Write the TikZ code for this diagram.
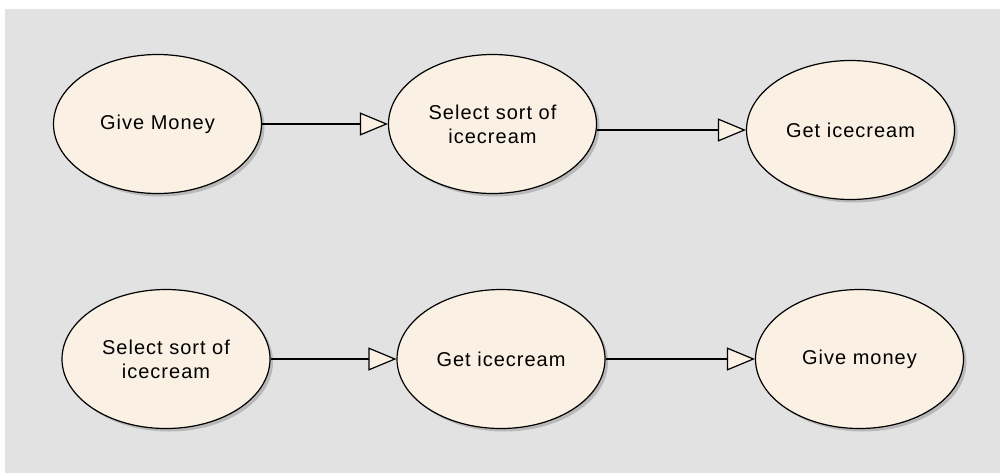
\documentclass[tikz,border=0pt]{standalone}
\usepackage{fontspec}
\setmainfont{Liberation Sans}[LetterSpace=5]
\usetikzlibrary{shapes.geometric,arrows.meta,shadows}

\definecolor{bggray}{HTML}{E2E2E2}
\definecolor{ucfill}{HTML}{FAF0E3}

\tikzset{
  usecase/.style={ellipse,draw=black,line width=0.6pt,fill=ucfill,
    minimum width=104pt,minimum height=69.5pt,inner sep=0pt,align=center,
    font=\fontsize{10}{12}\selectfont,
    drop shadow={shadow xshift=1.5pt,shadow yshift=-1.5pt,fill=black,opacity=0.18}},
  >={Triangle[length=14pt,width=11.5pt,fill=ucfill]},
  every edge/.append style={line width=0.6pt}
}

\begin{document}
\begin{tikzpicture}[x=0.5pt,y=-0.5pt]
  \useasboundingbox (0,0) rectangle (1000,473);
  \fill[white] (0,0) rectangle (1000,473);
  \fill[bggray] (5,9) rectangle (1000,473);

  % first order
  \node[usecase] (give1) at (157.5,124) {Give Money};
  \node[usecase] (sel1) at (492.5,124) {Select sort of\\icecream}
  edge[<-] (give1);
  \node[usecase] (get1) at (850.5,130) {Get icecream};
  \draw[<-,line width=0.6pt] (get1.west) -- (get1.west -| sel1.east);

  % second order
  \node[usecase] (sel2) at (166,359) {Select sort of\\icecream};
  \node[usecase] (get2) at (501,359) {Get icecream}
  edge[<-] (sel2);
  \node[usecase] (give2) at (859.5,359) {Give money}
  edge[<-] (get2);
\end{tikzpicture}
\end{document}
